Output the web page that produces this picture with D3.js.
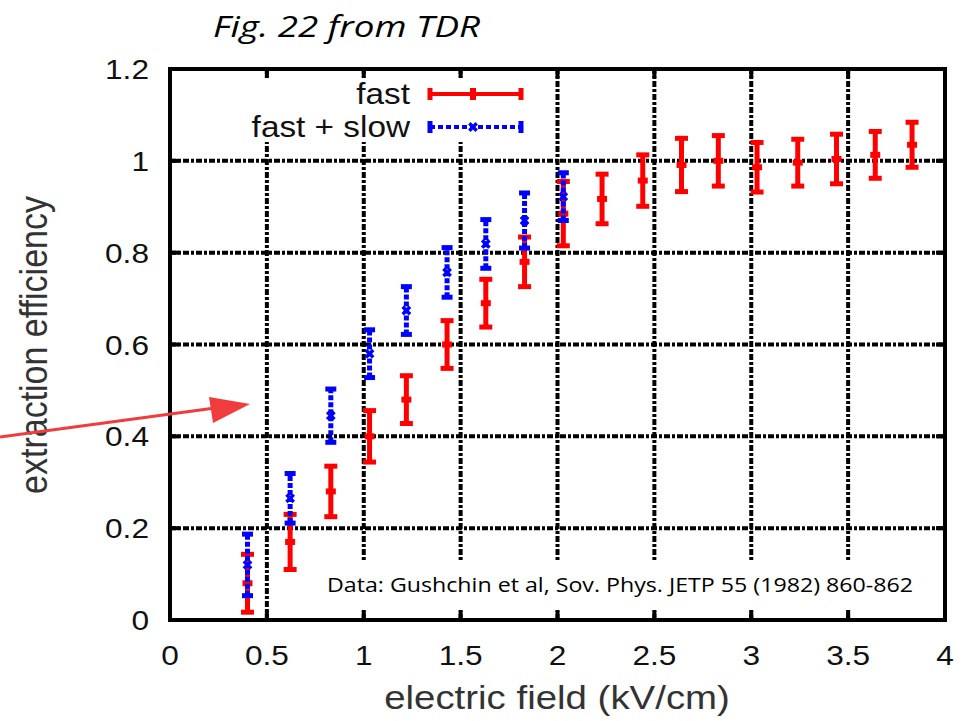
<!DOCTYPE html>
<html>
<head>
<meta charset="utf-8">
<script src="https://cdn.jsdelivr.net/npm/d3@7"></script>
<style>
  body { margin: 0; background: #fff; }
  svg { display: block; }
</style>
</head>
<body>
<svg width="971" height="721"></svg>
<script>
// values
const fastX = [0.40, 0.62, 0.83, 1.03, 1.22, 1.43, 1.63, 1.83, 2.03, 2.23, 2.44, 2.64, 2.83, 3.03, 3.24, 3.44, 3.64, 3.83];
const fastY = [0.08, 0.17, 0.28, 0.40, 0.48, 0.60, 0.69, 0.78, 0.885, 0.917, 0.957, 0.991, 1.0, 0.986, 0.996, 1.004, 1.013, 1.035];
const fastErr = [0.063, 0.06, 0.055, 0.056, 0.052, 0.052, 0.052, 0.054, 0.07, 0.054, 0.056, 0.058, 0.055, 0.054, 0.051, 0.054, 0.051, 0.049];

const slowX = [0.40, 0.62, 0.83, 1.03, 1.22, 1.43, 1.63, 1.83, 2.03];
const slowY = [0.12, 0.265, 0.445, 0.58, 0.674, 0.757, 0.819, 0.87, 0.922];
const slowErr = [0.067, 0.054, 0.058, 0.052, 0.052, 0.054, 0.053, 0.06, 0.052];

const xTicks = [0, 0.5, 1, 1.5, 2, 2.5, 3, 3.5, 4];
const yTicks = [0, 0.2, 0.4, 0.6, 0.8, 1, 1.2];
const seriesNames = ["fast", "fast + slow"];

const svg = d3.select("svg");
const plotL = 170, plotR = 945, plotT = 69, plotB = 620;

const x = d3.scaleLinear().domain([0, 4]).range([plotL, plotR]);
const y = d3.scaleLinear().domain([0, 1.2]).range([plotB, plotT]);

const font = "'Liberation Sans', Arial, sans-serif";
const sx = 1.13; // the source image is stretched sideways

// grid lines
svg.append("g").selectAll("line")
  .data(xTicks.slice(1, -1))
  .enter().append("line")
  .attr("x1", d => x(d)).attr("x2", d => x(d))
  .attr("y1", y(0)).attr("y2", y(1.2))
  .attr("stroke", "#000").attr("stroke-width", 4)
  .attr("stroke-dasharray", "6,2,3,2");

svg.append("g").selectAll("line")
  .data(yTicks.slice(1, -1))
  .enter().append("line")
  .attr("x1", x(0)).attr("x2", x(4))
  .attr("y1", d => y(d)).attr("y2", d => y(d))
  .attr("stroke", "#000").attr("stroke-width", 4)
  .attr("stroke-dasharray", "6,2,3,2");

// opaque key box and note box
svg.append("rect").attr("x", plotL + 2).attr("y", plotT + 8).attr("width", 365).attr("height", 65).attr("fill", "#fff");
svg.append("rect").attr("x", 318).attr("y", 560).attr("width", 610).attr("height", 50).attr("fill", "#fff");

// ticks (inside, all four sides)
let tk = svg.append("g").attr("stroke", "#000").attr("stroke-width", 4);
xTicks.forEach(t => {
  tk.append("line").attr("x1", x(t)).attr("x2", x(t)).attr("y1", plotB).attr("y2", plotB - 9);
  tk.append("line").attr("x1", x(t)).attr("x2", x(t)).attr("y1", plotT).attr("y2", plotT + 9);
});
yTicks.forEach(t => {
  tk.append("line").attr("x1", plotL).attr("x2", plotL + 9).attr("y1", y(t)).attr("y2", y(t));
  tk.append("line").attr("x1", plotR).attr("x2", plotR - 9).attr("y1", y(t)).attr("y2", y(t));
});

// frame
svg.append("rect")
  .attr("x", plotL).attr("y", plotT)
  .attr("width", plotR - plotL).attr("height", plotB - plotT)
  .attr("fill", "none").attr("stroke", "#000").attr("stroke-width", 4);

// tick labels
svg.append("g").selectAll("text")
  .data(xTicks).enter().append("text")
  .attr("transform", d => `translate(${x(d)},665) scale(${sx},1)`)
  .attr("text-anchor", "middle")
  .attr("font-family", font).attr("font-size", 28).attr("fill", "#111")
  .text(d => d);

svg.append("g").selectAll("text")
  .data(yTicks).enter().append("text")
  .attr("transform", d => `translate(149,${y(d) + 10}) scale(${sx},1)`)
  .attr("text-anchor", "end")
  .attr("font-family", font).attr("font-size", 28).attr("fill", "#111")
  .text(d => d);

// axis titles
svg.append("text")
  .attr("transform", `translate(557,709) scale(${sx},1)`)
  .attr("text-anchor", "middle")
  .attr("font-family", font).attr("font-size", 34).attr("fill", "#333")
  .text("electric field (kV/cm)");

svg.append("text")
  .attr("transform", `translate(47,345) scale(${sx},1) rotate(-90)`)
  .attr("text-anchor", "middle")
  .attr("font-family", font).attr("font-size", 34).attr("fill", "#333")
  .text("extraction efficiency");

// title
svg.append("text")
  .attr("x", 213).attr("y", 37)
  .attr("font-family", "'Open Sans', sans-serif").attr("font-style", "italic")
  .attr("font-size", 30).attr("fill", "#000")
  .attr("textLength", 267).attr("lengthAdjust", "spacingAndGlyphs")
  .text("Fig. 22 from TDR");

// note
svg.append("text")
  .attr("x", 327).attr("y", 592)
  .attr("font-family", "'Open Sans', sans-serif")
  .attr("font-size", 20).attr("fill", "#000")
  .attr("textLength", 586).attr("lengthAdjust", "spacingAndGlyphs")
  .text("Data: Gushchin et al, Sov. Phys. JETP 55 (1982) 860-862");

// error bars
function errorBars(g, xs, ys, es, color, dash, cap, marker) {
  const data = xs.map((v, i) => ({ x: v, y: ys[i], e: es[i] }));
  const grp = g.selectAll("g").data(data).enter().append("g");
  grp.append("line")
    .attr("x1", d => x(d.x)).attr("x2", d => x(d.x))
    .attr("y1", d => y(d.y - d.e)).attr("y2", d => y(d.y + d.e))
    .attr("stroke", color).attr("stroke-width", 5)
    .attr("stroke-dasharray", dash);
  [-1, 1].forEach(s => {
    grp.append("line")
      .attr("x1", d => x(d.x) - cap / 2).attr("x2", d => x(d.x) + cap / 2)
      .attr("y1", d => y(d.y + s * d.e)).attr("y2", d => y(d.y + s * d.e))
      .attr("stroke", color).attr("stroke-width", 5);
  });
  grp.append("path")
    .attr("transform", d => `translate(${x(d.x)},${y(d.y)})` + (marker === "x" ? " rotate(45)" : ""))
    .attr("d", marker === "x" ? d3.symbol(d3.symbolCross, 60)() : "M-5,-3h10v6h-10z")
    .attr("fill", color);
}

errorBars(svg.append("g"), fastX, fastY, fastErr, "#ff0000", null, 13, "sq");
errorBars(svg.append("g"), slowX, slowY, slowErr, "#0000ff", "5,2", 11, "x");

// key
const key = svg.append("g");
const keyY = [94, 127];
const keyColors = ["#ff0000", "#0000ff"];
key.selectAll("text").data(seriesNames).enter().append("text")
  .attr("transform", (d, i) => `translate(410,${keyY[i] + 10}) scale(${sx},1)`)
  .attr("text-anchor", "end")
  .attr("font-family", font).attr("font-size", 29.5).attr("fill", "#111")
  .text(d => d);
seriesNames.forEach((n, i) => {
  const c = keyColors[i];
  key.append("line").attr("x1", 430).attr("x2", 521).attr("y1", keyY[i]).attr("y2", keyY[i])
    .attr("stroke", c).attr("stroke-width", 4).attr("stroke-dasharray", i ? "5,3" : null);
  [430, 521].forEach(px => {
    key.append("line").attr("x1", px).attr("x2", px).attr("y1", keyY[i] - 6).attr("y2", keyY[i] + 6)
      .attr("stroke", c).attr("stroke-width", 5);
  });
  key.append("path")
    .attr("transform", `translate(473,${keyY[i]})` + (i ? " rotate(45)" : ""))
    .attr("d", i ? d3.symbol(d3.symbolCross, 60)() : "M-3,-6h6v12h-6z")
    .attr("fill", c);
});

// red arrow
const arrowColor = "#f03c3c";
svg.append("line")
  .attr("x1", 0).attr("y1", 437).attr("x2", 215).attr("y2", 408)
  .attr("stroke", arrowColor).attr("stroke-width", 3);
svg.append("path")
  .attr("d", "M209,397 L250,404 L213,423 Z")
  .attr("fill", arrowColor);
</script>
</body>
</html>
